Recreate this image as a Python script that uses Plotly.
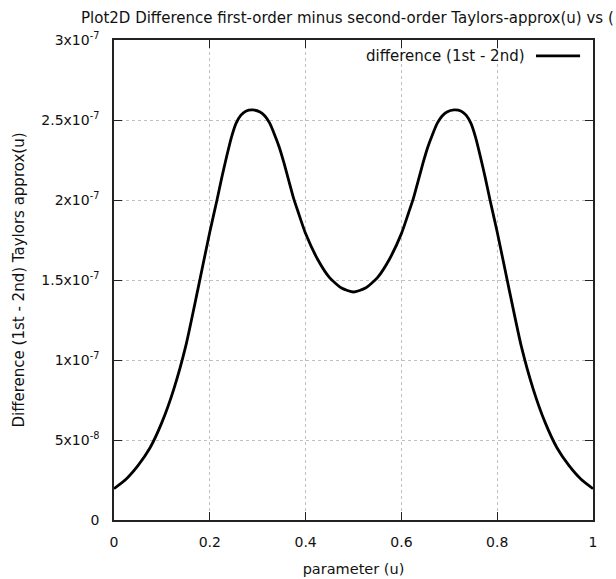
import plotly.graph_objects as go

# Data (difference values in units of 1e-7)
u_values = [0.000, 0.025, 0.050, 0.075, 0.100, 0.125, 0.150, 0.175, 0.200, 0.215,
            0.225, 0.235, 0.245, 0.255, 0.265, 0.275, 0.290, 0.305, 0.315, 0.325,
            0.335, 0.345, 0.355, 0.365, 0.375, 0.385, 0.400, 0.425, 0.450, 0.475,
            0.500,
            0.525, 0.550, 0.575, 0.600, 0.615, 0.625, 0.635, 0.645, 0.655, 0.665,
            0.675, 0.685, 0.695, 0.710, 0.725, 0.735, 0.745, 0.755, 0.765, 0.775,
            0.785, 0.800, 0.825, 0.850, 0.875, 0.900, 0.925, 0.950, 0.975, 1.000]
diff_e7 = [0.196, 0.255, 0.340, 0.450, 0.610, 0.820, 1.090, 1.440, 1.800, 2.000,
           2.140, 2.270, 2.390, 2.480, 2.530, 2.555, 2.563, 2.550, 2.525, 2.480,
           2.410, 2.330, 2.230, 2.120, 2.010, 1.920, 1.790, 1.630, 1.515, 1.450,
           1.425,
           1.450, 1.515, 1.630, 1.790, 1.920, 2.010, 2.120, 2.230, 2.330, 2.410,
           2.480, 2.525, 2.550, 2.563, 2.555, 2.530, 2.480, 2.390, 2.270, 2.140,
           2.000, 1.800, 1.440, 1.090, 0.820, 0.610, 0.450, 0.340, 0.255, 0.196]
difference = [v * 1e-7 for v in diff_e7]

x_tickvals = [0, 0.2, 0.4, 0.6, 0.8, 1]
x_ticktext = ["0", "0.2", "0.4", "0.6", "0.8", "1"]
y_tickvals = [0, 5e-8, 1e-7, 1.5e-7, 2e-7, 2.5e-7, 3e-7]
y_ticktext = ["0", "5x10<sup>-8</sup>", "1x10<sup>-7</sup>", "1.5x10<sup>-7</sup>",
              "2x10<sup>-7</sup>", "2.5x10<sup>-7</sup>", "3x10<sup>-7</sup>"]

title_text = "Plot2D Difference first-order minus second-order Taylors-approx(u) vs ("
legend_label = "difference (1st - 2nd)"

FONT = "DejaVu Sans"
TXT = "#111111"

fig = go.Figure()
fig.add_trace(go.Scatter(
    x=u_values, y=difference, mode="lines",
    line=dict(color="black", width=2.8, shape="spline", smoothing=0.6),
    name=legend_label, showlegend=False,
))

axis_common = dict(
    showline=True, linecolor="#222222", linewidth=1.5, mirror="ticks",
    ticks="inside", ticklen=8, tickcolor="#222222", tickwidth=1.2,
    showgrid=True, gridcolor="#c0c0c0", griddash="dot", gridwidth=1,
    zeroline=False, automargin=False,
    tickfont=dict(family=FONT, size=14, color=TXT),
)

fig.update_xaxes(range=[0, 1], tickvals=x_tickvals, ticktext=x_ticktext,
                 ticklabelstandoff=8,
                 title=dict(text="parameter (u)", font=dict(family=FONT, size=14.5, color=TXT),
                            standoff=15),
                 **axis_common)
fig.update_yaxes(range=[0, 3e-7], tickvals=y_tickvals, ticktext=y_ticktext,
                 ticklabelstandoff=10,
                 title=dict(text="Difference (1st - 2nd) Taylors approx(u)",
                            font=dict(family=FONT, size=15, color=TXT), standoff=13),
                 **axis_common)

# gnuplot-style key: label then line sample, top right inside the plot
fig.add_annotation(xref="paper", yref="paper", x=0.862, y=0.967, text=legend_label,
                   showarrow=False, xanchor="right", yanchor="middle",
                   font=dict(family=FONT, size=15, color=TXT))
fig.add_shape(type="line", xref="paper", yref="paper", x0=0.881, x1=0.973, y0=0.967, y1=0.967,
              line=dict(color="black", width=2.8))

fig.update_layout(
    width=616, height=579,
    margin=dict(l=114, r=23, t=40, b=59),
    paper_bgcolor="white", plot_bgcolor="white",
    font=dict(family=FONT, size=14, color=TXT),
    title=dict(text=title_text, x=81 / 616, xanchor="left", xref="container",
               y=1 - 18 / 579, yanchor="middle", yref="container",
               font=dict(family=FONT, size=15, color=TXT)),
)

fig.write_html("out.html", config={"displayModeBar": False},
               post_script="document.body.style.margin='0';")
